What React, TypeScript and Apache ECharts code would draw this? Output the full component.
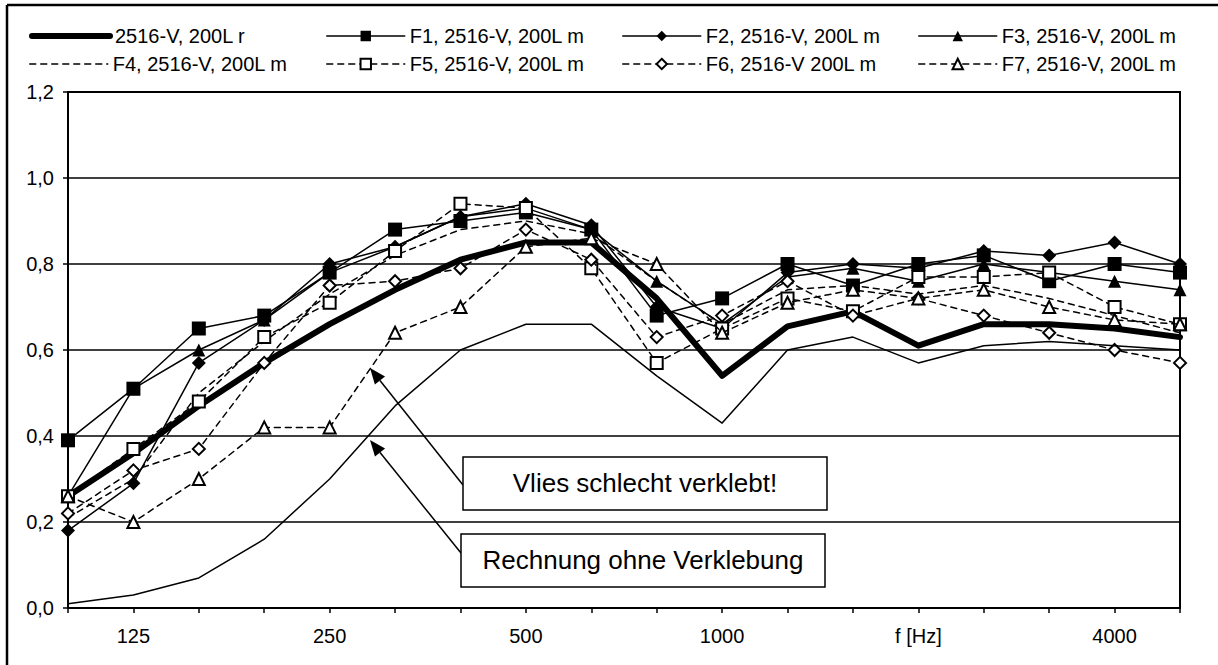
import React, { useEffect, useRef } from 'react';
import * as echarts from 'echarts';

const categories = ['100', '125', '160', '200', '250', '315', '400', '500', '630', '800', '1000', '1250', '1600', '2000', '2500', '3150', '4000', '5000'];
const xTickLabels = ['', '125', '', '', '250', '', '', '500', '', '', '1000', '', '', 'f [Hz]', '', '', '4000', ''];

const rData = [0.26, 0.36, 0.47, 0.57, 0.66, 0.74, 0.81, 0.85, 0.85, 0.72, 0.54, 0.655, 0.69, 0.61, 0.66, 0.66, 0.65, 0.63];
const f1Data = [0.39, 0.51, 0.65, 0.68, 0.78, 0.88, 0.9, 0.92, 0.88, 0.68, 0.72, 0.8, 0.75, 0.8, 0.82, 0.76, 0.8, 0.78];
const f2Data = [0.18, 0.29, 0.57, 0.67, 0.8, 0.84, 0.91, 0.94, 0.89, 0.7, 0.65, 0.78, 0.8, 0.79, 0.83, 0.82, 0.85, 0.8];
const f3Data = [0.26, 0.51, 0.6, 0.67, 0.78, 0.84, 0.91, 0.93, 0.88, 0.76, 0.66, 0.77, 0.79, 0.76, 0.8, 0.78, 0.76, 0.74];
const f4Data = [0.21, 0.3, 0.5, 0.62, 0.73, 0.82, 0.88, 0.9, 0.87, 0.76, 0.66, 0.74, 0.75, 0.73, 0.75, 0.72, 0.68, 0.64];
const f5Data = [0.26, 0.37, 0.48, 0.63, 0.71, 0.83, 0.94, 0.93, 0.79, 0.57, 0.65, 0.72, 0.69, 0.77, 0.77, 0.78, 0.7, 0.66];
const f6Data = [0.22, 0.32, 0.37, 0.57, 0.75, 0.76, 0.79, 0.88, 0.81, 0.63, 0.68, 0.76, 0.68, 0.72, 0.68, 0.64, 0.6, 0.57];
const f7Data = [0.26, 0.2, 0.3, 0.42, 0.42, 0.64, 0.7, 0.84, 0.86, 0.8, 0.64, 0.71, 0.74, 0.72, 0.74, 0.7, 0.67, 0.66];
const calcData = [0.01, 0.03, 0.07, 0.16, 0.3, 0.47, 0.6, 0.66, 0.66, 0.54, 0.43, 0.6, 0.63, 0.57, 0.61, 0.62, 0.61, 0.6];

const seriesNames = ['2516-V, 200L r', 'F1, 2516-V, 200L m', 'F2, 2516-V, 200L m', 'F3, 2516-V, 200L m', 'F4, 2516-V, 200L m', 'F5, 2516-V, 200L m', 'F6, 2516-V 200L m', 'F7, 2516-V, 200L m'];
const calcName = 'Rechnung ohne Verklebung';
const noteVlies = 'Vlies schlecht verklebt!';
const noteCalc = 'Rechnung ohne Verklebung';

const FONT = "'Liberation Sans', Arial, sans-serif";
const DASH = [6, 5];

function arrow(x1: number, y1: number, x2: number, y2: number) {
  const dx = x2 - x1;
  const dy = y2 - y1;
  const len = Math.sqrt(dx * dx + dy * dy);
  const ux = dx / len;
  const uy = dy / len;
  const hl = 16;
  const hw = 6.5;
  const bx = x2 - ux * hl;
  const by = y2 - uy * hl;
  const nx = -uy;
  const ny = ux;
  return [
    { type: 'line', shape: { x1, y1, x2: bx, y2: by }, style: { stroke: '#000', lineWidth: 1.5 }, z: 100 },
    {
      type: 'polygon',
      shape: { points: [[x2, y2], [bx + nx * hw, by + ny * hw], [bx - nx * hw, by - ny * hw]] },
      style: { fill: '#000' },
      z: 100,
    },
  ];
}

function noteBox(x: number, y: number, w: number, h: number, text: string) {
  return [
    { type: 'rect', shape: { x, y, width: w, height: h }, style: { fill: '#fff', stroke: '#000', lineWidth: 1.5 }, z: 100 },
    {
      type: 'text',
      x: x + w / 2,
      y: y + h / 2 - 1,
      style: { text, fontSize: 26, fontFamily: FONT, fill: '#000', align: 'center', verticalAlign: 'middle' },
      z: 101,
    },
  ];
}

export default function App() {
  const ref = useRef<HTMLDivElement>(null);
  useEffect(() => {
    if (!ref.current) return;
    const chart = echarts.init(ref.current, null, { renderer: 'svg' });

    const line = (name: string, data: number[], symbol: string, symbolSize: number, width: number, dashed: boolean, z: number) => ({
      type: 'line',
      name,
      data,
      symbol,
      symbolSize,
      showSymbol: symbol !== 'none',
      lineStyle: { color: '#000', width, type: dashed ? DASH : 'solid', cap: 'round', join: 'round' },
      itemStyle: { color: '#000' },
      emphasis: { disabled: true },
      z,
    });

    const colLeft = [29, 326, 622, 918];
    const rowTop = [25, 53];
    const noSymbol = [true, false, false, false, true, false, false, false];

    const legends = seriesNames.map((n, i) => ({
      data: [noSymbol[i] ? { name: n, itemStyle: { opacity: 0 } } : { name: n }],
      left: colLeft[i % 4],
      top: rowTop[Math.floor(i / 4)],
      padding: 0,
      itemWidth: 78,
      itemHeight: 13,
      itemGap: 0,
      selectedMode: false,
      lineStyle: { width: 'inherit' },
      textStyle: { fontSize: 20, fontFamily: FONT, color: '#000', lineHeight: 22 },
    }));

    chart.setOption({
      animation: false,
      backgroundColor: '#fff',
      textStyle: { fontFamily: FONT },
      legend: legends,
      grid: { left: 68, right: 38, top: 92, bottom: 57, show: true, borderColor: '#000', borderWidth: 2, backgroundColor: 'transparent' },
      xAxis: {
        type: 'category',
        data: categories,
        boundaryGap: false,
        axisLine: { lineStyle: { color: '#000', width: 2 } },
        axisTick: { show: true, interval: 0, length: 5, lineStyle: { color: '#000', width: 1.5 } },
        axisLabel: {
          interval: 0,
          formatter: (_v: string, i: number) => xTickLabels[i],
          fontSize: 20,
          fontFamily: FONT,
          color: '#000',
          margin: 18,
        },
        splitLine: { show: false },
      },
      yAxis: {
        type: 'value',
        min: 0,
        max: 1.2,
        interval: 0.2,
        axisLine: { show: true, lineStyle: { color: '#000', width: 2 } },
        axisTick: { show: true, length: 5, lineStyle: { color: '#000', width: 1.5 } },
        axisLabel: {
          formatter: (v: number) => v.toFixed(1).replace('.', ','),
          fontSize: 20,
          fontFamily: FONT,
          color: '#000',
          margin: 14,
        },
        splitLine: { show: true, lineStyle: { color: '#000', width: 1.5 } },
      },
      series: [
        line(seriesNames[0], rData, 'none', 0, 6, false, 2),
        line(seriesNames[1], f1Data, 'rect', 14, 1.5, false, 3),
        line(seriesNames[2], f2Data, 'diamond', 14, 1.5, false, 4),
        line(seriesNames[3], f3Data, 'triangle', 13, 1.5, false, 5),
        line(seriesNames[4], f4Data, 'none', 0, 1.5, true, 6),
        line(seriesNames[5], f5Data, 'emptyRect', 12, 1.5, true, 7),
        line(seriesNames[6], f6Data, 'emptyDiamond', 12, 1.5, true, 8),
        line(seriesNames[7], f7Data, 'emptyTriangle', 12, 1.5, true, 9),
        line(calcName, calcData, 'none', 0, 1.5, false, 10),
      ],
      graphic: [
        { type: 'line', shape: { x1: 7, y1: 5, x2: 1218, y2: 5 }, style: { stroke: '#000', lineWidth: 2.5 } },
        { type: 'line', shape: { x1: 7, y1: 5, x2: 7, y2: 665 }, style: { stroke: '#000', lineWidth: 2.5 } },
        ...arrow(463, 485, 370, 368),
        ...arrow(465, 558, 370, 440),
        ...noteBox(463, 457, 364, 53, noteVlies),
        ...noteBox(461, 534, 364, 53, noteCalc),
      ],
    });
    return () => chart.dispose();
  }, []);
  return <div ref={ref} style={{ position: 'absolute', left: 0, top: 0, width: 1218, height: 665, background: '#fff' }} />;
}
